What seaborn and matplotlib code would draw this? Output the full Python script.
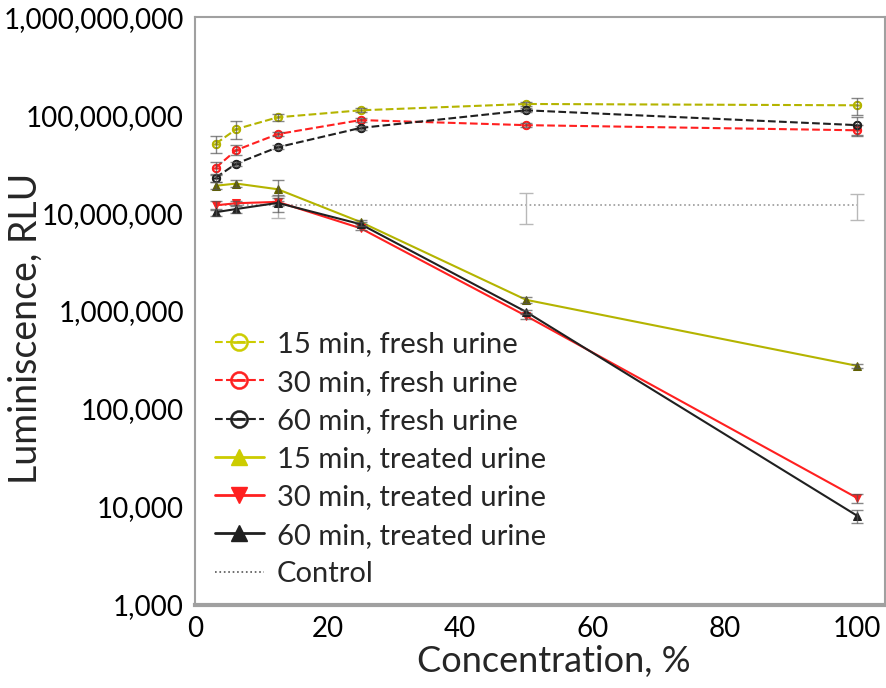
import matplotlib
matplotlib.use("Agg")
import matplotlib.pyplot as plt
import matplotlib.ticker as mticker
from matplotlib.lines import Line2D
import numpy as np
import seaborn as sns
import pandas as pd

# concentration of urine, %
conc = [3.125, 6.25, 12.5, 25, 50, 100]

# luminescence, RLU
fresh_15 = [5.1e7, 7.2e7, 9.5e7, 1.12e8, 1.3e8, 1.26e8]
fresh_30 = [2.9e7, 4.4e7, 6.4e7, 8.9e7, 7.9e7, 7.0e7]
fresh_60 = [2.3e7, 3.2e7, 4.7e7, 7.4e7, 1.12e8, 7.9e7]
treated_15 = [1.9e7, 2.0e7, 1.75e7, 8.1e6, 1.3e6, 2.75e5]
treated_30 = [1.2e7, 1.26e7, 1.3e7, 7.0e6, 8.9e5, 1.23e4]
treated_60 = [1.02e7, 1.1e7, 1.27e7, 7.7e6, 9.8e5, 8.1e3]
control = [1.2e7, 1.2e7, 1.2e7, 1.2e7, 1.2e7, 1.2e7]

# relative size of the error bars
err_fresh_15 = [0.2, 0.2, 0.08, 0.05, 0.05, 0.2]
err_fresh_30 = [0.15, 0.12, 0.05, 0.05, 0.05, 0.12]
err_fresh_60 = [0.1, 0.05, 0.05, 0.05, 0.05, 0.2]
err_treated_15 = [0.08, 0.08, 0.25, 0.05, 0.08, 0.05]
err_treated_30 = [0.1, 0.05, 0.1, 0.05, 0.08, 0.1]
err_treated_60 = [0.08, 0.08, 0.2, 0.05, 0.05, 0.15]
err_control = [0.0, 0.0, 0.25, 0.0, 0.35, 0.3]

labels = ['15 min, fresh urine', '30 min, fresh urine', '60 min, fresh urine',
          '15 min, treated urine', '30 min, treated urine', '60 min, treated urine']

sns.set_style('white')
plt.rcParams['font.family'] = ['Lato', 'DejaVu Sans']

yellow = '#b4b400'
red = '#ff2020'
black = '#202020'

series = [
    (fresh_15, err_fresh_15, yellow, '--', r'$\ominus$', yellow),
    (fresh_30, err_fresh_30, red, '--', r'$\ominus$', red),
    (fresh_60, err_fresh_60, black, '--', r'$\ominus$', black),
    (treated_15, err_treated_15, yellow, '-', '^', '#606000'),
    (treated_30, err_treated_30, red, '-', 'v', red),
    (treated_60, err_treated_60, black, '-', '^', black),
]

fig = plt.figure(figsize=(8.87, 6.88), dpi=100)
ax = fig.add_axes([0.2198, 0.121, 0.778, 0.854])

# control
df_c = pd.DataFrame({'x': conc, 'y': control})
sns.lineplot(data=df_c, x='x', y='y', ax=ax, color='#9a9a9a', linestyle=':', linewidth=1.2)
yc = np.array(control)
ec = yc * np.array(err_control)
mask = ec > 0
ax.errorbar(np.array(conc)[mask], yc[mask], yerr=ec[mask], fmt='none',
            ecolor='#b8b8b8', elinewidth=1, capsize=5)

handles = []
for (vals, err, col, ls, mk, mcol), lab in zip(series, labels):
    df = pd.DataFrame({'x': conc, 'y': vals})
    sns.lineplot(data=df, x='x', y='y', ax=ax, color=col, linestyle=ls, linewidth=1.5,
                 marker=mk, markersize=6, markeredgecolor=mcol, markerfacecolor=mcol)
    y = np.array(vals)
    ax.errorbar(conc, y, yerr=y * np.array(err), fmt='none', ecolor='#555555',
                elinewidth=1, capsize=4, alpha=0.7)
    leg_col = '#cccc00' if col == yellow else col
    if ls == '--':
        h = Line2D([], [], color=leg_col, linestyle='--', linewidth=1.5, marker=r'$\ominus$',
                   markersize=13, markeredgewidth=0.4)
    else:
        h = Line2D([], [], color=leg_col, linestyle='-', linewidth=2, marker=mk, markersize=11)
    handles.append(h)

handles.append(Line2D([], [], color='#555555', linestyle=':', linewidth=1.2))
all_labels = labels + ['Control']

ax.set_yscale('log')
ax.set_ylim(1e3, 1e9)
ax.set_xlim(0, 104.2)
ax.xaxis.set_major_locator(mticker.MultipleLocator(20))
ax.xaxis.set_minor_locator(mticker.MultipleLocator(5))
ax.yaxis.set_major_locator(mticker.LogLocator(base=10, numticks=10))
ax.yaxis.set_minor_locator(mticker.LogLocator(base=10, subs=[2, 4, 6, 8], numticks=10))
ax.yaxis.set_minor_formatter(mticker.NullFormatter())
ax.yaxis.set_major_formatter(mticker.FuncFormatter(lambda v, p: f'{v:,.0f}'))

ax.tick_params(axis='both', which='both', direction='in', colors='#808080',
               labelcolor='black', labelsize=20)
ax.tick_params(axis='both', which='major', length=9, width=1.2)
ax.tick_params(axis='both', which='minor', length=5, width=1)
ax.tick_params(axis='x', pad=8)
ax.tick_params(axis='y', pad=8)

for side in ['left', 'bottom', 'top', 'right']:
    ax.spines[side].set_color('#a0a0a0')
    ax.spines[side].set_linewidth(1.5)
ax.spines['bottom'].set_linewidth(3)

ax.set_xlabel('Concentration, %', fontsize=26)
ax.xaxis.set_label_coords(0.52, -0.068)
ax.set_ylabel('Luminiscence, RLU', fontsize=27)
ax.yaxis.set_label_coords(-0.219, 0.471)

ax.legend(handles, all_labels, loc='upper left', bbox_to_anchor=(0.0, 0.50),
          frameon=False, fontsize=21, handlelength=1.65, handletextpad=0.45,
          labelspacing=0.42, borderaxespad=0.3)

fig.savefig('out.png', dpi=100)
